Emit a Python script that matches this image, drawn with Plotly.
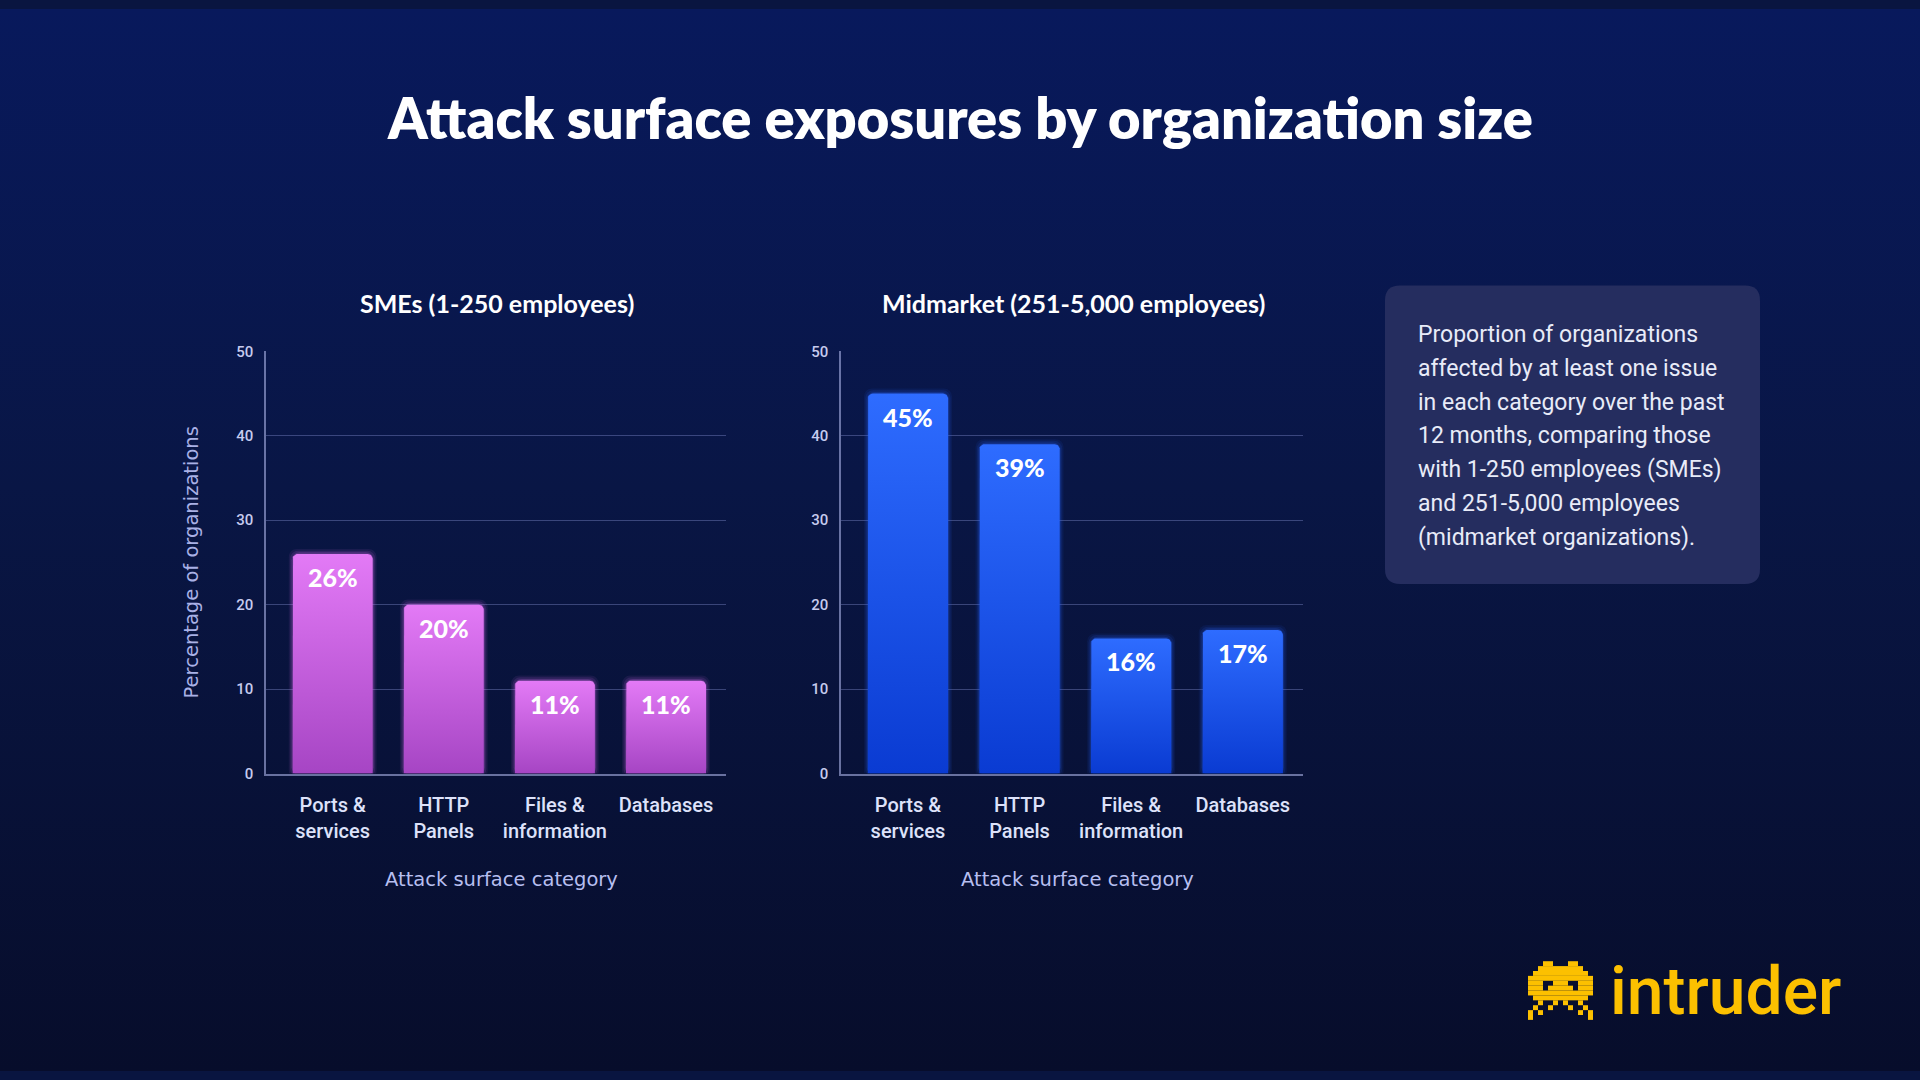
import base64
import math
import plotly.graph_objects as go

# ---------------- data ----------------
categories = ["Ports &<br>services", "HTTP<br>Panels", "Files &<br>information", "Databases"]
sme_values = [26, 20, 11, 11]
mid_values = [45, 39, 16, 17]
y_ticks = [0, 10, 20, 30, 40, 50]
panel_titles = ["SMEs (1-250 employees)", "Midmarket (251-5,000 employees)"]
main_title = "Attack surface exposures by organization size"
x_title = "Attack surface category"
y_title = "Percentage of organizations"
note_lines = [
    "Proportion of organizations",
    "affected by at least one issue",
    "in each category over the past",
    "12 months, comparing those",
    "with 1-250 employees (SMEs)",
    "and 251-5,000 employees",
    "(midmarket organizations).",
]
brand = "intruder"
invader = [
    "...XX...XX...",
    "..XXXXXXXXX..",
    ".XXXXXXXXXXX.",
    "XXXXXXXXXXXXX",
    "XXX..XXX..XXX",
    "XXX.XXXXX.XXX",
    "XXXXXXXXXXXXX",
    ".XXXXXXXXXXX.",
    "..X..X.X..X..",
    ".X..X...X..X.",
    "X.X.......X.X",
    "X...........X",
]

W, H = 1920, 1080
# empirically the page shows the figure 8px down and 1064px tall
OFF_Y, EFF_H = 8, 1064


def px(x):
    return x / W


def py(y):
    return 1 - (y - OFF_Y) / EFF_H


# ---------------- styles ----------------
PINK_TOP, PINK_BOT, PINK_GLOW = "#e37af6", "#a645c4", "rgba(225,110,245,{a})"
BLUE_TOP, BLUE_BOT, BLUE_GLOW = "#2e6cff", "#0a3bd2", "rgba(40,100,255,{a})"
GRID = "rgba(140,150,215,0.38)"
AXLINE = "rgba(170,178,230,0.6)"
TICK_COL = "#dde2fa"
YTICK_COL = "#c6cbee"
BAR_W = 0.72

fig = go.Figure()

# background gradient
bg_svg = (
    "<svg xmlns='http://www.w3.org/2000/svg' width='1920' height='1080' viewBox='0 0 1920 1080' "
    "preserveAspectRatio='none'><defs><linearGradient id='g' x1='0' y1='0' x2='0' y2='1'>"
    "<stop offset='0' stop-color='#08195c'/><stop offset='0.45' stop-color='#091645'/>"
    "<stop offset='1' stop-color='#070d2b'/></linearGradient></defs>"
    "<rect width='1920' height='1080' fill='url(#g)'/></svg>"
)
bg_src = "data:image/svg+xml;base64," + base64.b64encode(bg_svg.encode()).decode()


def rounded_bar(i, v, w=BAR_W, rx=0.045, ry=0.6):
    x0, x1 = i - w / 2, i + w / 2
    xs, ys = [x0, x0], [0, v - ry]
    for k in range(9):
        a = math.pi - k * (math.pi / 2) / 8
        xs.append(x0 + rx + rx * math.cos(a))
        ys.append(v - ry + ry * math.sin(a))
    for k in range(9):
        a = math.pi / 2 - k * (math.pi / 2) / 8
        xs.append(x1 - rx + rx * math.cos(a))
        ys.append(v - ry + ry * math.sin(a))
    xs += [x1, x0]
    ys += [0, 0]
    return xs, ys


panels = [
    ("x", "y", sme_values, PINK_TOP, PINK_BOT, PINK_GLOW),
    ("x2", "y2", mid_values, BLUE_TOP, BLUE_BOT, BLUE_GLOW),
]

for xa, ya, vals, top, bot, glow in panels:
    xs = list(range(len(vals)))
    # soft glow layers
    for wext, pad, alpha in [(0.07, 0.6, 0.08), (0.045, 0.4, 0.12), (0.02, 0.2, 0.2)]:
        fig.add_trace(go.Bar(
            x=xs, y=[v + 2 * pad for v in vals], base=[-pad] * len(vals),
            width=BAR_W + wext, marker=dict(color=glow.format(a=alpha), cornerradius=8, line=dict(width=0)),
            xaxis=xa, yaxis=ya, hoverinfo="skip", showlegend=False,
        ))
    for i, v in enumerate(vals):
        bx, by = rounded_bar(i, v)
        fig.add_trace(go.Scatter(
            x=bx, y=by, mode="lines", fill="toself", line=dict(width=0),
            fillgradient=dict(type="vertical", colorscale=[[0, bot], [1, top]]),
            xaxis=xa, yaxis=ya, hoverinfo="skip", showlegend=False,
        ))
        fig.add_annotation(
            x=i, y=v, xref=xa, yref=ya, text=f"{v}%", showarrow=False,
            yanchor="middle", yshift=-23,
            font=dict(family="Lato", size=25, color="white", weight=900),
        )

left_dom = [px(266), px(726)]
right_dom = [px(841), px(1303)]
y_dom = [py(774), py(351)]

xaxis_common = dict(
    range=[-0.6, 3.54], tickvals=list(range(len(categories))), ticktext=categories,
    showgrid=False, zeroline=False, showline=True, linecolor=AXLINE, linewidth=1.5,
    ticks="outside", ticklen=13, tickcolor="rgba(0,0,0,0)",
    tickfont=dict(family="Roboto", size=20, color=TICK_COL, weight=500),
    fixedrange=True,
)
yaxis_common = dict(
    range=[0, 50], tickvals=y_ticks, showgrid=True, gridcolor=GRID, gridwidth=1,
    zeroline=False, showline=True, linecolor=AXLINE, linewidth=1.5,
    ticks="outside", ticklen=8, tickcolor="rgba(0,0,0,0)",
    tickfont=dict(family="Roboto", size=15, color=YTICK_COL, weight=500),
    fixedrange=True,
)

fig.update_layout(
    width=W, height=H,
    margin=dict(l=0, r=0, t=0, b=0),
    paper_bgcolor="#091540", plot_bgcolor="rgba(0,0,0,0)",
    barmode="overlay", showlegend=False,
    xaxis=dict(domain=left_dom, anchor="y", **xaxis_common),
    yaxis=dict(domain=y_dom, anchor="x", **yaxis_common),
    xaxis2=dict(domain=right_dom, anchor="y2", **xaxis_common),
    yaxis2=dict(domain=y_dom, anchor="x2", **yaxis_common),
    images=[dict(source=bg_src, xref="paper", yref="paper", x=0, y=1, sizex=1, sizey=1,
                 sizing="stretch", layer="below", xanchor="left", yanchor="top")],
)

# main title
fig.add_annotation(x=0.5, y=py(117), xref="paper", yref="paper", text=main_title, showarrow=False,
                   xanchor="center", yanchor="middle",
                   font=dict(family="Lato", size=56, color="white", weight=800))

# panel titles and axis titles
for dom, ptitle in zip([left_dom, right_dom], panel_titles):
    cx = (dom[0] + dom[1]) / 2
    fig.add_annotation(x=cx + px(1), y=py(303), xref="paper", yref="paper", text=ptitle, showarrow=False,
                       xanchor="center", yanchor="middle",
                       font=dict(family="Lato", size=25, color="white", weight=700))
    fig.add_annotation(x=cx + px(5), y=py(880), xref="paper", yref="paper", text=x_title, showarrow=False,
                       xanchor="center", yanchor="middle",
                       font=dict(family="DejaVu Sans", size=19.5, color="#b7bff0"))

fig.add_annotation(x=px(191), y=(y_dom[0] + y_dom[1]) / 2, xref="paper", yref="paper", text=y_title,
                   showarrow=False, textangle=-90, xanchor="center", yanchor="middle",
                   font=dict(family="DejaVu Sans", size=19.5, color="#a9b1e6"))

# info box
x0, x1, y0, y1, r = 1385, 1760, 285, 584, 15
path = (
    f"M {px(x0 + r)} {py(y0)} L {px(x1 - r)} {py(y0)} Q {px(x1)} {py(y0)} {px(x1)} {py(y0 + r)} "
    f"L {px(x1)} {py(y1 - r)} Q {px(x1)} {py(y1)} {px(x1 - r)} {py(y1)} "
    f"L {px(x0 + r)} {py(y1)} Q {px(x0)} {py(y1)} {px(x0)} {py(y1 - r)} "
    f"L {px(x0)} {py(y0 + r)} Q {px(x0)} {py(y0)} {px(x0 + r)} {py(y0)} Z"
)
fig.add_shape(type="path", path=path, xref="paper", yref="paper",
              fillcolor="#252d5f", line=dict(width=0), layer="below")
for k, line in enumerate(note_lines):
    fig.add_annotation(x=px(1416), y=py(334 + k * 33.9), xref="paper", yref="paper", text=line,
                       showarrow=False, xanchor="left", yanchor="middle",
                       font=dict(family="Roboto", size=23, color="#e8ebf8"))

# logo
YEL = "#fcc000"
cell_w, cell_h = 5.0, 4.9
ox, oy = 1528, 962
for r_i, row in enumerate(invader):
    for c_i, ch in enumerate(row):
        if ch == "X":
            fig.add_shape(type="rect", xref="paper", yref="paper",
                          x0=px(ox + c_i * cell_w), x1=px(ox + (c_i + 1) * cell_w),
                          y0=py(oy + (r_i + 1) * cell_h), y1=py(oy + r_i * cell_h),
                          fillcolor=YEL, line=dict(width=0))
fig.add_annotation(x=px(1608), y=py(992), xref="paper", yref="paper", text=brand, showarrow=False,
                   xanchor="left", yanchor="middle",
                   font=dict(family="Roboto", size=66, color=YEL, weight=500))

fig.write_html(
    "out.html",
    config={"displayModeBar": False},
    post_script="document.body.style.margin='0';document.body.style.padding='0';"
                "document.body.style.background='#070d2b';",
)
